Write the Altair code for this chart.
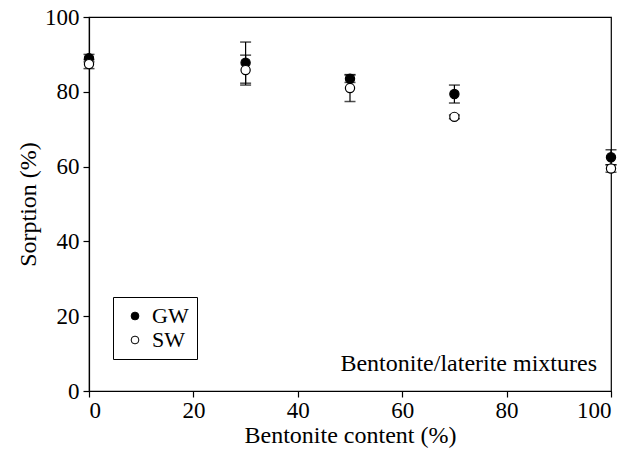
import altair as alt
import pandas as pd

content = [0, 30, 50, 70, 100]
gw = [89.0, 87.8, 83.5, 79.4, 62.5]
gw_err = [1.0, 5.5, 1.0, 2.4, 2.0]
sw = [87.4, 85.8, 81.0, 73.3, 59.5]
sw_err = [1.2, 4.0, 3.6, 0.5, 1.0]

rows = []
for x, v, e in zip(content, gw, gw_err):
    rows.append({"x": x, "y": v, "lo": v - e, "hi": v + e, "s": "GW"})
for x, v, e in zip(content, sw, sw_err):
    rows.append({"x": x, "y": v, "lo": v - e, "hi": v + e, "s": "SW"})
df = pd.DataFrame(rows)

FONT = "Liberation Serif"
xs = alt.Scale(domain=[0, 100], nice=False)
ys = alt.Scale(domain=[0, 100], nice=False)

base = alt.Chart(df)
xenc = alt.X("x:Q", scale=xs, axis=alt.Axis(values=[0, 20, 40, 60, 80, 100], title="Bentonite content (%)",
                                             titlePadding=1, labelPadding=2))
yenc = alt.Y("y:Q", scale=ys, axis=alt.Axis(values=[0, 20, 40, 60, 80, 100], title="Sorption (%)",
                                             titlePadding=4, labelPadding=4))

rules = base.mark_rule(color="black", strokeWidth=1.2).encode(
    x=alt.X("x:Q", scale=xs), y=alt.Y("lo:Q", scale=ys), y2="hi:Q")
cap_hi = base.mark_tick(color="black", size=11, thickness=1.5, orient="horizontal").encode(
    x=alt.X("x:Q", scale=xs), y=alt.Y("hi:Q", scale=ys))
cap_lo = base.mark_tick(color="black", size=11, thickness=1.5, orient="horizontal").encode(
    x=alt.X("x:Q", scale=xs), y=alt.Y("lo:Q", scale=ys))
pts = base.mark_point(filled=True, size=85, stroke="black", strokeWidth=1.2, opacity=1).encode(
    x=xenc, y=yenc,
    fill=alt.Fill("s:N", scale=alt.Scale(domain=["GW", "SW"], range=["black", "white"]),
                  legend=alt.Legend(title=None, orient="none", legendX=24, legendY=280,
                                    strokeColor="black", padding=8,
                                    labelFont=FONT, labelFontSize=22, labelColor="black",
                                    symbolStrokeColor="black", symbolSize=60, symbolStrokeWidth=1,
                                    rowPadding=2, labelOffset=6, symbolOffset=3)),
)
note = alt.Chart(pd.DataFrame({"t": ["Bentonite/laterite mixtures"]})).mark_text(
    font=FONT, fontSize=24, align="right", baseline="bottom", color="black").encode(
    text="t:N", x=alt.value(508), y=alt.value(359))

chart = alt.layer(rules, cap_hi, cap_lo, pts, note).properties(
    width=522, height=374,
    background="white",
    autosize=alt.AutoSizeParams(type="none"),
    padding={"left": 89, "top": 17, "right": 12, "bottom": 58},
).configure_view(stroke="black", strokeWidth=1.2).configure_axis(
    labelFont=FONT, labelFontSize=23, labelColor="black", titleFont=FONT, titleFontSize=24,
    titleColor="black", titleFontWeight="normal", grid=False, domainColor="black",
    tickColor="black", tickSize=6, domainWidth=1.2, tickWidth=1.2,
)

chart.save("out.html", embed_options={"renderer": "svg", "actions": False})
